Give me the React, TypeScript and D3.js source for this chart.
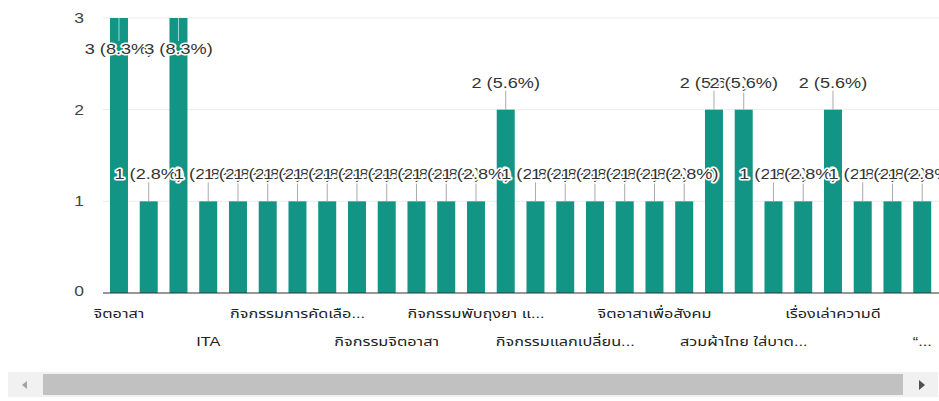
import React from "react";
import * as d3 from "d3";

// ---- data ----
const categories: string[] = [
  "จิตอาสา", "", "", "ITA", "", "", "กิจกรรมการคัดเลือ...", "", "",
  "กิจกรรมจิตอาสา", "", "", "กิจกรรมพับถุงยา แ...", "", "",
  "กิจกรรมแลกเปลี่ยน...", "", "", "จิตอาสาเพื่อสังคม", "", "",
  "สวมผ้าไทย ใส่บาต...", "", "", "เรื่องเล่าความดี", "", "", "“...",
];
const values: number[] = [
  3, 1, 3, 1, 1, 1, 1, 1, 1, 1, 1, 1, 1, 2, 1, 1, 1, 1, 1, 1, 2, 2, 1, 1, 2, 1, 1, 1,
];
const totalResponses = 36;
const yTicks: number[] = [0, 1, 2, 3];

const W = 939;
const H = 401;
const SX = 1.25; // horizontal text stretch of the reference
const FONT = "Arial, 'Liberation Sans', 'Noto Sans Thai', 'Noto Sans', sans-serif";
const BAR = "#129584";

function STxt(props: {
  x: number; y: number; size: number; anchor?: string; fill?: string;
  halo?: boolean; children: React.ReactNode;
}) {
  const { x, y, size, anchor = "middle", fill = "#222", halo = false, children } = props;
  return (
    <g transform={`translate(${x},${y}) scale(${SX},1)`}>
      <text
        x={0}
        y={0}
        dy="0.35em"
        fontSize={size}
        fontFamily={FONT}
        textAnchor={anchor}
        fill={fill}
        stroke={halo ? "#fff" : "none"}
        strokeWidth={halo ? 3 : 0}
        strokeLinejoin="round"
        style={{ paintOrder: "stroke" }}
      >
        {children}
      </text>
    </g>
  );
}

export default function App() {
  const idx = values.map((_, i) => i);
  const x = d3
    .scaleBand<number>()
    .domain(idx)
    .range([104.1, 937.1])
    .paddingInner(0.395)
    .paddingOuter(0.1975);
  const y = d3.scaleLinear().domain([0, 3]).range([293, 18]);

  const fmt = (v: number) =>
    `${v} (${d3.format(".1f")((v / totalResponses) * 100)}%)`;

  return (
    <svg
      width={W}
      height={H}
      style={{ position: "absolute", left: 0, top: 0, background: "#fff" }}
    >
      {/* gridlines */}
      {yTicks.filter((t) => t > 0).map((t) => (
        <line key={t} x1={103} x2={W} y1={y(t)} y2={y(t)} stroke="#ebebeb" strokeWidth={1} />
      ))}
      {/* y tick labels */}
      {yTicks.map((t) => (
        <STxt key={t} x={84} y={y(t) - (t === 0 ? 2 : 0)} size={14} anchor="end" fill="#444">
          {t}
        </STxt>
      ))}
      {/* bars */}
      {values.map((v, i) => (
        <rect key={i} x={x(i)} y={y(v)} width={x.bandwidth()} height={y(0) - y(v)} fill={BAR} />
      ))}
      {/* baseline */}
      <line x1={103} x2={W} y1={y(0)} y2={y(0)} stroke="#333" strokeWidth={1.2} />
      {/* stems */}
      {values.map((v, i) => {
        const cx = (x(i) as number) + x.bandwidth() / 2;
        const top = y(v);
        const inside = top - 27 < 20;
        const ly = inside ? top + 31 : top - 27;
        return (
          <line
            key={i}
            x1={cx}
            x2={cx}
            y1={top}
            y2={inside ? ly - 8 : ly + 8}
            stroke={inside ? "#9fd6cc" : "#aaa"}
            strokeWidth={1}
          />
        );
      })}
      {/* value labels */}
      {values.map((v, i) => {
        const cx = (x(i) as number) + x.bandwidth() / 2;
        const top = y(v);
        const inside = top - 27 < 20;
        const ly = inside ? top + 31 : top - 27;
        return (
          <STxt key={i} x={cx} y={ly} size={14.5} halo fill="#333">
            {fmt(v)}
          </STxt>
        );
      })}
      {/* x labels */}
      {categories.map((c, i) => {
        if (!c) return null;
        const cx = (x(i) as number) + x.bandwidth() / 2;
        const row = (i / 3) % 2;
        return (
          <STxt key={i} x={cx} y={row === 0 ? 313 : 341} size={13} fill="#222">
            {c}
          </STxt>
        );
      })}
      {/* scrollbar */}
      <rect x={8} y={372} width={930} height={25} fill="#f1f1f1" />
      <rect x={43} y={374} width={860} height={21} fill="#c1c1c1" />
      <path d="M27,381 L22,385 L27,389 Z" fill="#a3a3a3" />
      <path d="M919,380 L925,385 L919,390 Z" fill="#505050" />
    </svg>
  );
}
